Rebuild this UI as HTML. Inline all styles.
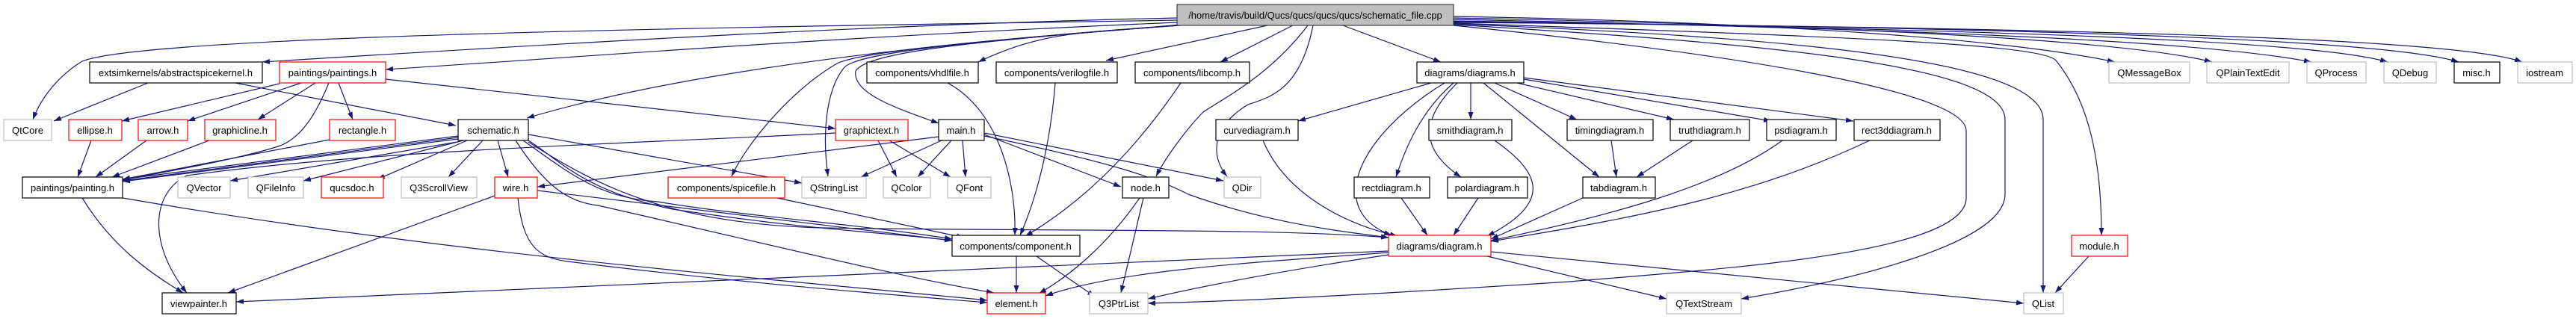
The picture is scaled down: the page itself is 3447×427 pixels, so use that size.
<!DOCTYPE html>
<html><head><meta charset="utf-8"><style>
html,body{margin:0;padding:0;background:#fff;}
svg{display:block;}
text{font-family:"Liberation Sans",sans-serif;font-size:13px;fill:#000;text-anchor:middle;}
.e{fill:none;stroke:#191970;stroke-width:1.2;marker-end:url(#a);}
.b{fill:#fff;stroke:#000;stroke-width:1.2;}
.r{fill:#fff;stroke:#ff0000;stroke-width:1.2;}
.g{fill:#fff;stroke:#bfbfbf;stroke-width:1.2;}
</style></head><body>
<svg width="3447" height="427" viewBox="0 0 3447 427" xmlns="http://www.w3.org/2000/svg">
<defs><marker id="a" viewBox="0 0 10 7" refX="10" refY="3.5" markerWidth="10" markerHeight="7" markerUnits="userSpaceOnUse" orient="auto"><path d="M0,0 L10,3.5 L0,7 z" fill="#191970"/></marker></defs>

<!-- root edges left -->
<path class="e" d="M1575,27 C1100,35 200,45 110,82 C80,100 55,130 44,160"/>
<path class="e" d="M1575,24 C1200,32 800,55 351,83"/>
<path class="e" d="M1575,30 C1100,50 800,75 516,93"/>
<path class="e" d="M1580,34 C1200,60 900,100 705,158"/>
<path class="e" d="M1580,33 C1450,45 1400,40 1309,83"/>
<path class="e" d="M1696,34 L1480,81"/>
<path class="e" d="M1730,34 L1633,83"/>
<path class="e" d="M1797,34 L1928,83"/>
<path class="e" d="M1750,34 C1700,100 1640,130 1610,150 C1590,170 1560,210 1547,236"/>
<path class="e" d="M1757,34 C1740,120 1700,130 1670,140 C1620,170 1620,210 1642,236"/>
<path class="e" d="M1575,34 C1300,55 1150,70 1120,85 C1060,120 1000,190 979,236"/>
<path class="e" d="M1575,34 C1300,55 1150,70 1130,90 C1105,120 1100,180 1108,236"/>
<path class="e" d="M1575,34 C1300,55 1160,70 1145,95 C1140,125 1200,145 1256,165"/>
<!-- root edges right -->
<path class="e" d="M1945,22 C2400,30 2700,55 2830,83"/>
<path class="e" d="M1945,24 C2500,35 2850,55 2960,83"/>
<path class="e" d="M1945,26 C2600,40 2950,55 3093,83"/>
<path class="e" d="M1945,28 C2700,40 3100,55 3195,83"/>
<path class="e" d="M1945,29 C2800,38 3200,55 3290,83"/>
<path class="e" d="M1945,30 C2900,38 3300,55 3375,83"/>
<path class="e" d="M1945,31 C2500,50 2740,60 2752,82 C2790,130 2812,200 2812,315"/>
<path class="e" d="M1945,32 C2400,50 2734,80 2734,160 L2734,392"/>
<path class="e" d="M1945,33 C2400,60 2683,90 2683,160 L2683,260 C2683,330 2450,380 2330,400"/>
<path class="e" d="M1945,34 C2300,70 2631,120 2631,175 L2631,265 C2631,340 2300,360 2100,377 C1900,390 1700,402 1536,406"/>

<!-- abstractspicekernel / paintings -->
<path class="e" d="M198,111 L72,162"/>
<path class="e" d="M315,111 L610,168"/>
<path class="e" d="M374,112 L163,162"/>
<path class="e" d="M403,111 L251,162"/>
<path class="e" d="M422,111 L345,160"/>
<path class="e" d="M453,111 L472,160"/>
<path class="e" d="M440,111 C420,160 400,185 375,195 C330,210 250,225 164,241"/>
<path class="e" d="M516,106 L1118,172"/>
<path class="e" d="M122,188 L104,237"/>
<path class="e" d="M196,188 L128,237"/>
<path class="e" d="M280,188 L150,237"/>
<path class="e" d="M441,187 L164,240"/>

<!-- schematic -->
<path class="e" d="M613,182 L164,240"/>
<path class="e" d="M613,184 L164,242"/>
<path class="e" d="M613,186 L164,243"/>
<path class="e" d="M612,190 L308,242"/>
<path class="e" d="M620,188 L406,242"/>
<path class="e" d="M625,188 L505,240"/>
<path class="e" d="M646,188 L600,237"/>
<path class="e" d="M666,188 L680,237"/>
<path class="e" d="M707,180 L1073,245"/>
<path class="e" d="M700,188 C760,230 800,265 880,270 C1000,290 1150,300 1274,320"/>
<path class="e" d="M707,188 C750,215 780,255 900,280 C1100,310 1200,312 1274,322"/>
<path class="e" d="M707,190 C800,250 900,300 1100,305 C1400,310 1700,305 1858,318"/>
<path class="e" d="M690,188 C730,250 760,270 800,275 C1000,320 1200,370 1330,392"/>
<!-- graphictext -->
<path class="e" d="M1118,178 C900,190 500,200 250,235 C200,260 200,330 250,392"/>
<path class="e" d="M1175,188 L1200,237"/>
<path class="e" d="M1190,188 L1272,237"/>
<!-- main -->
<path class="e" d="M1256,183 L719,250"/>
<path class="e" d="M1260,188 L1152,237"/>
<path class="e" d="M1273,188 L1228,237"/>
<path class="e" d="M1288,188 L1292,237"/>
<path class="e" d="M1317,180 L1500,250"/>
<path class="e" d="M1317,178 L1637,242"/>
<path class="e" d="M1317,182 C1500,220 1550,240 1590,260 C1700,300 1800,310 1858,318"/>
<!-- components -->
<path class="e" d="M1040,265 L1290,318"/>
<path class="e" d="M1268,111 C1340,150 1360,250 1358,315"/>
<path class="e" d="M1412,111 C1405,200 1385,270 1365,315"/>
<path class="e" d="M1580,111 C1520,200 1450,270 1372,316"/>
<path class="e" d="M662,262 L305,392"/>
<path class="e" d="M693,265 C700,330 720,345 760,350 C1000,380 1200,395 1321,405"/>
<path class="e" d="M719,255 L1274,322"/>
<path class="e" d="M110,265 C150,330 200,365 245,392"/>
<path class="e" d="M164,265 C600,340 1000,370 1321,402"/>
<path class="e" d="M1360,343 L1360,392"/>
<path class="e" d="M1387,343 L1465,397"/>
<path class="e" d="M1525,265 C1480,330 1430,370 1390,393"/>
<path class="e" d="M1530,265 L1500,392"/>
<!-- diagram.h -->
<path class="e" d="M1858,336 L316,404"/>
<path class="e" d="M1858,338 C1700,350 1500,360 1399,396"/>
<path class="e" d="M1858,341 C1700,365 1600,385 1536,400"/>
<path class="e" d="M1990,343 L2230,400"/>
<path class="e" d="M1995,337 L2708,406"/>
<!-- diagrams.h -->
<path class="e" d="M1915,111 L1737,162"/>
<path class="e" d="M1968,111 L1968,160"/>
<path class="e" d="M1945,111 C1900,150 1880,200 1868,237"/>
<path class="e" d="M1950,111 C1900,160 1900,200 1955,237"/>
<path class="e" d="M1933,111 C1820,180 1770,280 1862,315"/>
<path class="e" d="M2000,111 L2110,160"/>
<path class="e" d="M2030,111 L2240,160"/>
<path class="e" d="M2039,106 L2370,162"/>
<path class="e" d="M2039,104 L2480,162"/>
<path class="e" d="M1985,111 L2140,237"/>
<path class="e" d="M1690,188 C1720,260 1800,300 1870,316"/>
<path class="e" d="M2000,188 C2060,230 2080,270 1990,316"/>
<path class="e" d="M1875,265 L1910,315"/>
<path class="e" d="M1978,265 L1945,315"/>
<path class="e" d="M2118,265 L1995,320"/>
<path class="e" d="M2385,188 C2300,250 2150,290 1995,322"/>
<path class="e" d="M2502,188 C2350,260 2200,290 1995,323"/>
<path class="e" d="M2156,188 L2163,237"/>
<path class="e" d="M2265,188 L2190,237"/>
<path class="e" d="M2795,343 L2750,392"/>

<!-- nodes -->
<rect x="1575" y="6" width="370" height="28" fill="#bfbfbf" stroke="#404040" stroke-width="1.2"/><text x="1760" y="25">/home/travis/build/Qucs/qucs/qucs/qucs/schematic_file.cpp</text>

<rect class="b" x="120" y="83" width="231" height="28"/><text x="235" y="102">extsimkernels/abstractspicekernel.h</text>
<rect class="r" x="374" y="83" width="142" height="28"/><text x="445" y="102">paintings/paintings.h</text>
<rect class="b" x="1160" y="83" width="149" height="28"/><text x="1234" y="102">components/vhdlfile.h</text>
<rect class="b" x="1333" y="83" width="162" height="28"/><text x="1414" y="102">components/verilogfile.h</text>
<rect class="b" x="1519" y="83" width="153" height="28"/><text x="1595" y="102">components/libcomp.h</text>
<rect class="b" x="1896" y="83" width="143" height="28"/><text x="1967" y="102">diagrams/diagrams.h</text>
<rect class="g" x="2822" y="83" width="108" height="28"/><text x="2876" y="102">QMessageBox</text>
<rect class="g" x="2953" y="83" width="110" height="28"/><text x="3008" y="102">QPlainTextEdit</text>
<rect class="g" x="3087" y="83" width="79" height="28"/><text x="3126" y="102">QProcess</text>
<rect class="g" x="3190" y="83" width="70" height="28"/><text x="3225" y="102">QDebug</text>
<rect class="b" x="3284" y="83" width="61" height="28"/><text x="3314" y="102">misc.h</text>
<rect class="g" x="3369" y="83" width="73" height="28"/><text x="3405" y="102">iostream</text>

<rect class="g" x="5" y="160" width="64" height="28"/><text x="37" y="179">QtCore</text>
<rect class="r" x="92" y="160" width="71" height="28"/><text x="127" y="179">ellipse.h</text>
<rect class="r" x="185" y="160" width="66" height="28"/><text x="218" y="179">arrow.h</text>
<rect class="r" x="274" y="160" width="95" height="28"/><text x="321" y="179">graphicline.h</text>
<rect class="r" x="441" y="160" width="88" height="28"/><text x="485" y="179">rectangle.h</text>
<rect class="b" x="613" y="160" width="94" height="28"/><text x="660" y="179">schematic.h</text>
<rect class="r" x="1118" y="160" width="97" height="28"/><text x="1166" y="179">graphictext.h</text>
<rect class="b" x="1256" y="160" width="61" height="28"/><text x="1286" y="179">main.h</text>
<rect class="b" x="1627" y="160" width="110" height="28"/><text x="1682" y="179">curvediagram.h</text>
<rect class="b" x="1912" y="160" width="111" height="28"/><text x="1967" y="179">smithdiagram.h</text>
<rect class="b" x="2097" y="160" width="115" height="28"/><text x="2154" y="179">timingdiagram.h</text>
<rect class="b" x="2235" y="160" width="106" height="28"/><text x="2288" y="179">truthdiagram.h</text>
<rect class="b" x="2364" y="160" width="93" height="28"/><text x="2410" y="179">psdiagram.h</text>
<rect class="b" x="2481" y="160" width="115" height="28"/><text x="2538" y="179">rect3ddiagram.h</text>

<rect class="b" x="30" y="237" width="134" height="28"/><text x="97" y="256">paintings/painting.h</text>
<rect class="g" x="238" y="237" width="70" height="28"/><text x="273" y="256">QVector</text>
<rect class="g" x="332" y="237" width="74" height="28"/><text x="369" y="256">QFileInfo</text>
<rect class="r" x="430" y="237" width="83" height="28"/><text x="471" y="256">qucsdoc.h</text>
<rect class="g" x="537" y="237" width="101" height="28"/><text x="587" y="256">Q3ScrollView</text>
<rect class="r" x="662" y="237" width="57" height="28"/><text x="690" y="256">wire.h</text>
<rect class="r" x="894" y="237" width="156" height="28"/><text x="972" y="256">components/spicefile.h</text>
<rect class="g" x="1073" y="237" width="86" height="28"/><text x="1116" y="256">QStringList</text>
<rect class="g" x="1182" y="237" width="63" height="28"/><text x="1213" y="256">QColor</text>
<rect class="g" x="1268" y="237" width="58" height="28"/><text x="1297" y="256">QFont</text>
<rect class="b" x="1502" y="237" width="62" height="28"/><text x="1533" y="256">node.h</text>
<rect class="g" x="1638" y="237" width="49" height="28"/><text x="1662" y="256">QDir</text>
<rect class="b" x="1812" y="237" width="101" height="28"/><text x="1862" y="256">rectdiagram.h</text>
<rect class="b" x="1937" y="237" width="107" height="28"/><text x="1990" y="256">polardiagram.h</text>
<rect class="b" x="2118" y="237" width="97" height="28"/><text x="2166" y="256">tabdiagram.h</text>

<rect class="b" x="1274" y="315" width="171" height="28"/><text x="1359" y="334">components/component.h</text>
<rect class="r" x="1858" y="315" width="137" height="28"/><text x="1926" y="334">diagrams/diagram.h</text>
<rect class="r" x="2772" y="315" width="75" height="28"/><text x="2809" y="334">module.h</text>

<rect class="b" x="217" y="392" width="99" height="28"/><text x="266" y="411">viewpainter.h</text>
<rect class="r" x="1321" y="392" width="78" height="28"/><text x="1360" y="411">element.h</text>
<rect class="g" x="1458" y="392" width="78" height="28"/><text x="1497" y="411">Q3PtrList</text>
<rect class="g" x="2230" y="392" width="100" height="28"/><text x="2280" y="411">QTextStream</text>
<rect class="g" x="2708" y="392" width="53" height="28"/><text x="2734" y="411">QList</text>
</svg>
</body></html>
